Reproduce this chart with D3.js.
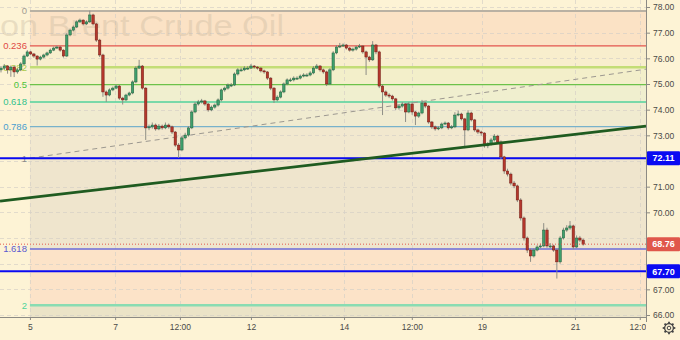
<!DOCTYPE html>
<html>
<head>
<meta charset="utf-8">
<script src="https://cdn.jsdelivr.net/npm/d3@7"></script>
<style>
  body { margin: 0; background: #fdf3d5; }
  svg { display: block; font-family: "Liberation Sans", Arial, sans-serif; }
</style>
</head>
<body>
<svg id="chart" width="680" height="340"></svg>
<script>
// ---- data (Brent, hourly-ish candles) ----
var opens = [75.55,75.62,75.70,75.55,75.66,75.47,75.55,75.78,76.09,76.25,
76.17,76.09,75.97,76.05,76.13,76.21,76.32,76.40,76.44,76.32,
76.09,76.91,77.10,77.22,77.42,77.49,77.34,77.42,77.69,77.34,
76.71,76.13,74.69,74.57,74.77,74.84,74.92,74.45,74.38,74.57,
74.65,75.08,75.62,75.70,74.84,73.29,73.33,73.40,73.25,73.36,
73.29,73.40,73.33,73.13,72.62,72.43,72.90,73.01,73.29,73.91,
74.22,74.30,74.34,74.22,73.99,74.10,74.18,74.38,74.77,74.84,
74.96,74.96,75.39,75.55,75.55,75.62,75.62,75.70,75.66,75.62,
75.51,75.47,75.23,74.84,74.38,74.49,74.69,75.00,75.16,75.16,
75.23,75.23,75.31,75.35,75.35,75.43,75.62,75.70,75.55,75.47,
75.00,75.55,76.21,76.44,76.48,76.52,76.40,76.32,76.36,76.44,
76.48,76.25,76.05,75.94,76.52,76.25,74.92,74.69,74.57,74.53,
74.42,74.07,74.14,74.22,73.91,74.22,73.91,73.75,73.87,74.26,
74.14,73.52,73.33,73.25,73.29,73.44,73.48,73.29,73.33,73.79,
73.83,73.64,73.21,73.87,73.60,73.21,73.13,73.09,72.59,72.66,
72.82,72.97,72.74,72.16,71.61,71.49,71.14,71.03,70.48,69.78,
69.00,68.53,68.30,68.53,68.65,68.69,69.31,68.69,68.69,68.53,
68.07,69.00,69.31,69.39,69.47,68.65,69.00,68.92];

var highs = [75.70,75.78,75.74,75.72,75.70,75.62,75.85,76.15,76.32,76.29,
76.21,76.12,76.10,76.18,76.26,76.38,76.46,76.50,76.48,76.35,
76.98,77.16,77.28,77.48,77.55,77.52,77.48,77.86,77.74,77.38,
76.76,76.18,74.75,74.83,74.90,74.98,74.96,74.50,74.62,74.70,
75.14,75.70,75.94,75.74,74.88,73.42,73.50,73.46,73.44,73.42,
73.50,73.46,73.38,73.17,72.70,72.96,73.10,73.36,73.97,74.30,
74.38,74.42,74.38,74.26,74.16,74.24,74.44,74.82,74.90,75.02,
75.04,75.45,75.62,75.64,75.70,75.70,75.78,75.74,75.70,75.66,
75.56,75.50,75.27,74.88,74.56,74.75,75.06,75.22,75.24,75.30,
75.30,75.37,75.42,75.42,75.50,75.70,75.78,75.74,75.60,75.52,
75.62,76.28,76.52,76.60,76.58,76.56,76.44,76.42,76.50,76.56,
76.52,76.30,76.10,76.67,76.56,76.30,74.98,74.75,74.64,74.58,
74.46,74.20,74.30,74.26,74.30,74.30,73.95,73.92,74.38,74.30,
74.18,73.56,73.38,73.36,73.50,73.54,73.52,73.40,73.90,73.96,
73.88,73.68,73.98,73.92,73.64,73.26,73.18,73.12,72.74,72.90,
73.05,73.02,72.80,72.20,71.70,71.55,71.22,71.08,70.55,69.84,
69.06,68.60,68.60,68.72,68.78,69.58,69.40,68.80,68.74,68.60,
69.08,69.40,69.50,69.66,69.52,69.10,69.08,68.98];

var lows = [75.45,75.55,75.40,75.28,75.27,75.40,75.50,75.74,76.05,76.12,
76.02,75.72,75.92,76.00,76.08,76.17,76.28,76.36,76.26,76.03,
76.05,76.86,77.05,77.18,77.38,77.28,77.30,77.38,77.28,76.64,
76.05,74.50,74.30,74.52,74.72,74.80,74.38,74.20,74.33,74.52,
74.60,75.03,75.58,74.78,72.82,73.20,73.26,73.18,73.20,73.22,
73.24,73.26,73.05,72.55,72.12,72.38,72.84,72.95,73.24,73.86,
74.16,74.24,74.15,73.92,73.94,74.04,74.12,74.32,74.70,74.78,
74.88,74.92,75.33,75.48,75.50,75.55,75.58,75.60,75.56,75.45,
75.40,75.16,74.76,74.26,74.32,74.44,74.64,74.95,75.08,75.10,
75.16,75.18,75.26,75.28,75.30,75.38,75.58,75.48,75.40,74.92,
74.96,75.50,76.16,76.40,76.44,76.34,76.26,76.26,76.30,76.40,
76.18,75.35,75.86,75.90,76.16,74.84,73.79,74.50,74.45,74.35,
73.99,74.00,74.08,73.52,73.86,73.80,73.40,73.68,73.82,74.06,
73.45,73.25,73.18,73.20,73.24,73.40,73.22,73.24,73.28,73.74,
73.58,72.50,73.16,73.54,73.14,73.05,72.98,72.52,72.50,72.60,
72.76,72.68,72.08,71.50,71.40,71.05,70.94,70.40,69.68,68.90,
68.42,68.07,68.24,68.48,68.60,68.64,68.62,68.60,68.46,67.42,
68.00,68.94,69.24,69.32,68.56,68.60,68.84,68.70];

var closes = [75.62,75.70,75.55,75.66,75.47,75.55,75.78,76.09,76.25,76.17,
76.09,75.97,76.05,76.13,76.21,76.32,76.40,76.44,76.32,76.09,
76.91,77.10,77.22,77.42,77.49,77.34,77.42,77.69,77.34,76.71,
76.13,74.69,74.57,74.77,74.84,74.92,74.45,74.38,74.57,74.65,
75.08,75.62,75.70,74.84,73.29,73.33,73.40,73.25,73.36,73.29,
73.40,73.33,73.13,72.62,72.43,72.90,73.01,73.29,73.91,74.22,
74.30,74.34,74.22,73.99,74.10,74.18,74.38,74.77,74.84,74.96,
74.96,75.39,75.55,75.55,75.62,75.62,75.70,75.66,75.62,75.51,
75.47,75.23,74.84,74.38,74.49,74.69,75.00,75.16,75.16,75.23,
75.23,75.31,75.35,75.35,75.43,75.62,75.70,75.55,75.47,75.00,
75.55,76.21,76.44,76.48,76.52,76.40,76.32,76.36,76.44,76.48,
76.25,76.05,75.94,76.52,76.25,74.92,74.69,74.57,74.53,74.42,
74.07,74.14,74.22,73.91,74.22,73.91,73.75,73.87,74.26,74.14,
73.52,73.33,73.25,73.29,73.44,73.48,73.29,73.33,73.79,73.83,
73.64,73.21,73.87,73.60,73.21,73.13,73.09,72.59,72.66,72.82,
72.97,72.74,72.16,71.61,71.49,71.14,71.03,70.48,69.78,69.00,
68.53,68.30,68.53,68.65,68.69,69.31,68.69,68.69,68.53,68.07,
69.00,69.31,69.39,69.47,68.65,69.00,68.92,68.76];

// time axis labels, placed by candle index
var timeLabels = ["5", "7", "12:00", "12", "14", "12:00", "19", "21", "12:00"];
var timeLabelIdx = [8.8, 34.7, 54.4, 76, 104.3, 124.9, 146.2, 174.5, 194.2];

var priceTicks = [66, 67, 68, 69, 70, 71, 72, 73, 74, 75, 76, 77, 78];

// fibonacci retracement
var fibLevels = [0, 0.236, 0.382, 0.5, 0.618, 0.786, 1, 1.618, 2, 2.618];
var fibShown = [0, 0.236, 0.382, 0.5, 0.618, 0.786, 1, 1.618, 2];
var fibHigh = 77.84, fibLow = 72.11, fibStartIdx = 8.8;

var markLevels = [72.11, 67.70];
var lastPrice = 68.76;

// drawn lines: [candle index, price]
var trendLine = [[-0.3, 70.44], [196.1, 73.36]];
var rayLine = [[8.8, 72.11], [188.1, 75.43]];

var watermark = "on Brent Crude Oil";

// ---- styles ----
var fibLineColor = { "0": "#b9b1a3", "0.236": "#e3534d", "0.382": "#c3dd76", "0.5": "#6cc24a",
  "0.618": "#52d29c", "0.786": "#78b2cb", "1": "#9a9a9a", "1.618": "#6b6bd9", "2": "#8adcb2", "2.618": "#c9c9c9" };
var fibLineWidth = { "0": 2, "0.236": 1.2, "0.382": 2.5, "0.5": 1.3, "0.618": 1.3, "0.786": 1.3, "1": 1, "1.618": 1.5, "2": 2.5, "2.618": 1 };
var fibTextColor = { "0": "#a29c92", "0.236": "#e04a44", "0.382": "#a9c94a", "0.5": "#4fc43a",
  "0.618": "#33c28c", "0.786": "#4a9ecf", "1": "#8a8a8a", "1.618": "#5a5ad0", "2": "#4fd39a" };
var fibZoneColor = ["#fbe2c5", "#f8eecd", "#f3efca", "#f0efcf", "#f0ebd0", "#f2e8cf", "#efe5cd", "#fce3c8", "#ebe3c7"];

var svg = d3.select("#chart");
var W = 680, H = 340, plotR = 646, plotB = 317;

var x = d3.scaleLinear().domain([-0.3, 196.1]).range([0, plotR]);
var y = d3.scaleLinear().domain([66, 78]).range([315, 7]);
function fibPrice(l) { return fibHigh - l * (fibHigh - fibLow); }

svg.append("rect").attr("width", W).attr("height", H).attr("fill", "#fdf3d5");

svg.append("clipPath").attr("id", "plotClip")
  .append("rect").attr("width", plotR).attr("height", plotB);
svg.append("clipPath").attr("id", "axisClip")
  .append("rect").attr("y", plotB).attr("width", plotR).attr("height", H - plotB);

var plot = svg.append("g").attr("clip-path", "url(#plotClip)");

// fib zones
var zones = d3.pairs(fibLevels);
plot.selectAll("rect.zone").data(zones).join("rect")
  .attr("class", "zone")
  .attr("x", x(fibStartIdx))
  .attr("width", plotR - x(fibStartIdx))
  .attr("y", function(d) { return y(fibPrice(d[0])); })
  .attr("height", function(d) { return y(fibPrice(d[1])) - y(fibPrice(d[0])); })
  .attr("fill", function(d, i) { return fibZoneColor[i]; });

// grid
plot.selectAll("line.hgrid").data(priceTicks).join("line")
  .attr("x1", 0).attr("x2", plotR)
  .attr("y1", function(d) { return Math.round(y(d)) + 0.5; })
  .attr("y2", function(d) { return Math.round(y(d)) + 0.5; })
  .attr("stroke", "#d6d0c6").attr("stroke-opacity", 0.7).attr("stroke-dasharray", "4,3");
plot.selectAll("line.vgrid").data(timeLabelIdx).join("line")
  .attr("y1", 0).attr("y2", plotB)
  .attr("x1", function(d) { return Math.round(x(d)) + 0.5; })
  .attr("x2", function(d) { return Math.round(x(d)) + 0.5; })
  .attr("stroke", "#d6d0c6").attr("stroke-opacity", 0.7).attr("stroke-dasharray", "4,3");

// watermark
plot.append("text")
  .attr("x", 0).attr("y", 36)
  .attr("textLength", 284).attr("lengthAdjust", "spacingAndGlyphs")
  .attr("font-size", 30).attr("fill", "#c4b49c").attr("fill-opacity", 0.35)
  .text(watermark);

// fib lines
plot.selectAll("line.fib").data(fibLevels).join("line")
  .attr("x1", x(fibStartIdx)).attr("x2", plotR)
  .attr("y1", function(d) { return y(fibPrice(d)); })
  .attr("y2", function(d) { return y(fibPrice(d)); })
  .attr("stroke", function(d) { return fibLineColor[d]; })
  .attr("stroke-width", function(d) { return fibLineWidth[d]; });

// fib labels
plot.selectAll("text.fib").data(fibShown).join("text")
  .attr("x", x(fibStartIdx) - 3)
  .attr("y", function(d) { return y(fibPrice(d)); })
  .attr("dy", "0.35em").attr("text-anchor", "end")
  .attr("font-size", 9.5)
  .attr("fill", function(d) { return fibTextColor[d]; })
  .text(function(d) { return d; });

var line = d3.line().x(function(d) { return x(d[0]); }).y(function(d) { return y(d[1]); });

// ray from the 1 level (dashed)
var ray = rayLine.slice();
var slope = (rayLine[1][1] - rayLine[0][1]) / (rayLine[1][0] - rayLine[0][0]);
ray[1] = [196.1, rayLine[0][1] + slope * (196.1 - rayLine[0][0])];
plot.append("path").attr("d", line(ray))
  .attr("fill", "none").attr("stroke", "#9c9890").attr("stroke-width", 1)
  .attr("stroke-dasharray", "5,4");

// horizontal marks
plot.selectAll("line.mark").data(markLevels).join("line")
  .attr("x1", 0).attr("x2", plotR)
  .attr("y1", function(d) { return y(d); }).attr("y2", function(d) { return y(d); })
  .attr("stroke", "#0a0af2").attr("stroke-width", 2);

// candles
var candles = d3.range(closes.length).map(function(i) {
  return { i: i, o: opens[i], h: highs[i], l: lows[i], c: closes[i] };
});
var bw = 2.4;
var cg = plot.append("g");
cg.selectAll("line.wick").data(candles).join("line")
  .attr("x1", function(d) { return x(d.i); }).attr("x2", function(d) { return x(d.i); })
  .attr("y1", function(d) { return y(d.h); }).attr("y2", function(d) { return y(d.l); })
  .attr("stroke", "#8e8e86").attr("stroke-width", 1);
cg.selectAll("rect.body").data(candles).join("rect")
  .attr("x", function(d) { return x(d.i) - bw / 2; })
  .attr("width", bw)
  .attr("y", function(d) { return y(Math.max(d.o, d.c)); })
  .attr("height", function(d) { return Math.max(1, Math.abs(y(d.o) - y(d.c))); })
  .attr("fill", function(d) { return d.c >= d.o ? "#3f9f6c" : "#b5372c"; })
  .attr("stroke", function(d) { return d.c >= d.o ? "#1f5c3b" : "#6f1a13"; })
  .attr("stroke-width", 0.5);

// trend line
plot.append("path").attr("d", line(trendLine))
  .attr("fill", "none").attr("stroke", "#1f5b20").attr("stroke-width", 2.8);

// last price dotted line
plot.append("line")
  .attr("x1", 0).attr("x2", plotR)
  .attr("y1", y(lastPrice)).attr("y2", y(lastPrice))
  .attr("stroke", "#e2584e").attr("stroke-width", 1).attr("stroke-dasharray", "1,2");

// axes
svg.append("line").attr("x1", plotR + 0.5).attr("x2", plotR + 0.5).attr("y1", 0).attr("y2", plotB + 5)
  .attr("stroke", "#8c8a84");
svg.append("line").attr("x1", 0).attr("x2", plotR).attr("y1", plotB + 0.5).attr("y2", plotB + 0.5)
  .attr("stroke", "#8c8a84");

// price badges (drawn over the axis labels they cover)
var badges = [
  { p: markLevels[0], fill: "#0a0af2" },
  { p: lastPrice, fill: "#e0574b" },
  { p: markLevels[1], fill: "#0a0af2" }
];

var yAxis = d3.axisRight(y).tickValues(priceTicks.filter(function(t) {
    return badges.every(function(b) { return Math.abs(y(t) - y(b.p)) > 11; });
  })).tickSize(4).tickPadding(3)
  .tickFormat(d3.format(".2f"));
var ya = svg.append("g").attr("transform", "translate(" + plotR + ",0)").call(yAxis);
ya.select(".domain").remove();
ya.selectAll("line").attr("stroke", "#8c8a84");
ya.selectAll("text").attr("font-size", 8.5).attr("fill", "#4a4a48").attr("font-family", "Liberation Sans, Arial, sans-serif");

var xAxis = d3.axisBottom(x).tickValues(timeLabelIdx).tickSize(3).tickPadding(4)
  .tickFormat(function(d, i) { return timeLabels[i]; });
var xa = svg.append("g").attr("clip-path", "url(#axisClip)")
  .append("g").attr("transform", "translate(0," + plotB + ")").call(xAxis);
xa.select(".domain").remove();
xa.selectAll("line").attr("stroke", "#8c8a84");
xa.selectAll("text").attr("font-size", 8.5).attr("fill", "#4a4a48").attr("font-family", "Liberation Sans, Arial, sans-serif");

var bg = svg.selectAll("g.badge").data(badges).join("g")
  .attr("transform", function(d) { return "translate(" + (plotR + 1) + "," + y(d.p) + ")"; });
bg.append("rect").attr("x", 0).attr("y", -7).attr("width", 33).attr("height", 14).attr("rx", 1)
  .attr("fill", function(d) { return d.fill; });
bg.append("text").attr("x", 16.5).attr("dy", "0.35em").attr("text-anchor", "middle")
  .attr("font-size", 9).attr("font-weight", "bold").attr("fill", "#fff")
  .text(function(d) { return d.p.toFixed(2); });

// settings gear
var gear = svg.append("g").attr("transform", "translate(669,328)");
gear.selectAll("line").data(d3.range(8)).join("line")
  .attr("x1", function(k) { return 3.5 * Math.cos(k * Math.PI / 4); })
  .attr("y1", function(k) { return 3.5 * Math.sin(k * Math.PI / 4); })
  .attr("x2", function(k) { return 6.3 * Math.cos(k * Math.PI / 4); })
  .attr("y2", function(k) { return 6.3 * Math.sin(k * Math.PI / 4); })
  .attr("stroke", "#444").attr("stroke-width", 1.8);
gear.append("circle").attr("r", 4.4).attr("fill", "#fdf3d5").attr("stroke", "#444").attr("stroke-width", 1.3);
gear.append("circle").attr("r", 1.8).attr("fill", "none").attr("stroke", "#444").attr("stroke-width", 1);
</script>
</body>
</html>
